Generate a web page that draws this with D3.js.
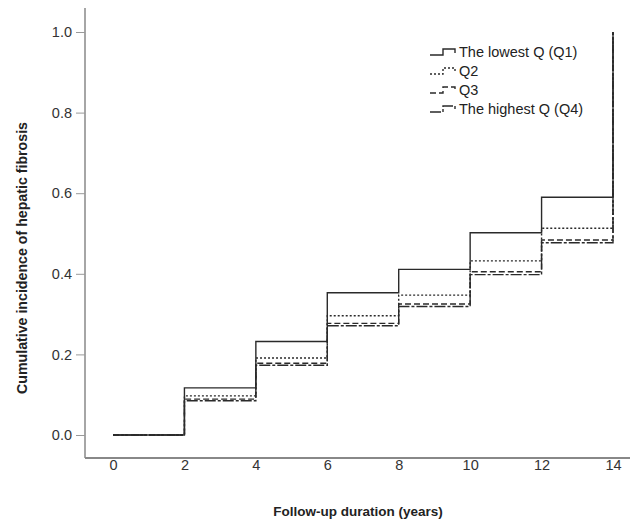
<!DOCTYPE html>
<html><head><meta charset="utf-8">
<script src="https://cdn.jsdelivr.net/npm/d3@7"></script>
<style>body{margin:0;background:#fff}svg{display:block}</style>
</head><body>
<svg id="c" width="630" height="519"></svg>
<script>
const times = [0, 2, 4, 6, 8, 10, 12, 14];
const q1 = [0, 0.117, 0.232, 0.353, 0.411, 0.502, 0.590, 1.0];
const q2 = [0, 0.097, 0.191, 0.296, 0.347, 0.432, 0.513, 1.0];
const q3 = [0, 0.089, 0.178, 0.277, 0.325, 0.405, 0.484, 1.0];
const q4 = [0, 0.085, 0.173, 0.271, 0.319, 0.398, 0.477, 1.0];
const seriesNames = ["The lowest Q (Q1)", "Q2", "Q3", "The highest Q (Q4)"];
const xTicks = [0, 2, 4, 6, 8, 10, 12, 14];
const yTicks = [0, 0.2, 0.4, 0.6, 0.8, 1.0];

const dashes = [null, "2,2", "6,3", "11,2,3,2"];
const series = [q1, q2, q3, q4];

const svg = d3.select("#c");
const x = d3.scaleLinear().domain([0, 14]).range([113, 613]);
const y = d3.scaleLinear().domain([0, 1]).range([435, 32]);
const font = "'Liberation Sans', Arial, sans-serif";

// axes lines
svg.append("line").attr("x1", 85).attr("x2", 85).attr("y1", 8).attr("y2", 458)
  .attr("stroke", "#888").attr("stroke-width", 1.5);
svg.append("line").attr("x1", 85).attr("x2", 630).attr("y1", 458).attr("y2", 458)
  .attr("stroke", "#888").attr("stroke-width", 2);

// y ticks
const yAxis = d3.axisLeft(y).tickValues(yTicks).tickFormat(d3.format(".1f")).tickSize(9).tickPadding(4);
const gy = svg.append("g").attr("transform", "translate(85,0)").call(yAxis);
gy.select(".domain").remove();
gy.selectAll(".tick line").attr("stroke", "#999");
gy.selectAll("text").attr("font-family", font).attr("font-size", 14.5).attr("fill", "#333");

// x ticks
const xAxis = d3.axisBottom(x).tickValues(xTicks).tickFormat(d3.format("d")).tickSize(0).tickPadding(2);
const gx = svg.append("g").attr("transform", "translate(0,458)").call(xAxis);
gx.select(".domain").remove();
gx.selectAll("text").attr("font-family", font).attr("font-size", 14.5).attr("fill", "#333");

// lines
const line = d3.line().x((d, i) => x(times[i])).y(d => y(d)).curve(d3.curveStepAfter);
series.forEach((s, k) => {
  svg.append("path").attr("d", line(s)).attr("fill", "none")
    .attr("stroke", "#2a2a2a").attr("stroke-width", 1.4)
    .attr("stroke-dasharray", dashes[k]);
});

// legend
const lg = svg.append("g");
seriesNames.forEach((n, k) => {
  const yy = 52 + k * 19;
  lg.append("path").attr("d", `M430,${yy + 3}H443V${yy - 3}H455V${yy + 1}`)
    .attr("fill", "none").attr("stroke", "#2a2a2a").attr("stroke-width", 1.4)
    .attr("stroke-dasharray", dashes[k]);
  lg.append("text").attr("x", 459).attr("y", yy + 5).text(n)
    .attr("font-family", font).attr("font-size", 14.5).attr("fill", "#222");
});

// titles
svg.append("text").attr("x", 358).attr("y", 516).attr("text-anchor", "middle")
  .attr("font-family", font).attr("font-size", 13.5).attr("font-weight", "bold").attr("fill", "#222")
  .text("Follow-up duration (years)");
svg.append("text").attr("transform", "translate(27,258) rotate(-90)").attr("text-anchor", "middle")
  .attr("font-family", font).attr("font-size", 14.2).attr("font-weight", "bold").attr("fill", "#222")
  .text("Cumulative incidence of hepatic fibrosis");
</script>
</body></html>
